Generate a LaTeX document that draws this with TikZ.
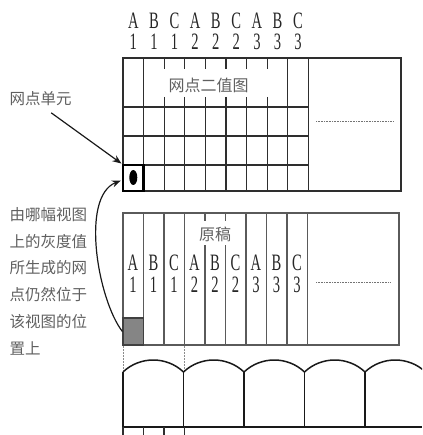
\documentclass[tikz,border=0pt]{standalone}
\usepackage{fontspec}
\usepackage{graphicx}
\newfontfamily\cjk{Noto Sans CJK SC}
\newfontfamily\ltrfont{Liberation Serif}
\usetikzlibrary{arrows.meta,calc}
\definecolor{txtgray}{HTML}{606060}
\definecolor{gridA}{HTML}{2E2E2E}
\definecolor{gridB}{HTML}{5A5A5A}
\newcommand\ltr[1]{\scalebox{0.62}[1]{#1}}
\begin{document}
\begin{tikzpicture}[x=1pt,y=-1pt,
  lettr/.style={inner sep=0pt,text=black!85,align=center},
  cjklbl/.style={inner sep=0pt,text=txtgray,font=\cjk\fontsize{15.5}{26.8}\selectfont},
  gA/.style={draw=gridA,line width=1.2pt},
  gB/.style={draw=gridB,line width=1.1pt},
  archline/.style={draw=black!90,line width=1.5pt},
  arr/.style={draw=black!90,line width=1.2pt,-{Stealth[length=9pt,width=7pt]}},
  dotln/.style={draw=black!55,line width=0.6pt,dash pattern=on 0.8pt off 0.8pt}]
\useasboundingbox (0,0) rectangle (422,435);
\begin{scope}
\clip (0,0) rectangle (422,435);
% ---------- column labels ----------
\foreach \i/\l/\n in {0/A/1,1/B/1,2/C/1,3/A/2,4/B/2,5/C/2,6/A/3,7/B/3,8/C/3} {
  \node[lettr,font=\ltrfont\fontsize{23.5}{21}\selectfont] (tl\i) at (133.3+20.6*\i, 31.5) {\ltr{\l}\\\ltr{\n}};
  \node[lettr,font=\ltrfont\fontsize{23.5}{22}\selectfont] (ol\i) at (133.0+20.5*\i, 273.5) {\ltr{\l}\\\ltr{\n}};
}
% ---------- top grid ----------
\draw[gA] (123,58) rectangle (401,191);
\foreach \y in {107,136,165} \draw[gA] (123,\y) -- (308.4,\y);
\foreach \x in {143.6,287.8,308.4} \draw[gA] (\x,58) -- (\x,191);
\foreach \i in {2,...,7} {
  \draw[gA] (123+20.6*\i,58) -- (123+20.6*\i,69);
  \draw[gA] (123+20.6*\i,97) -- (123+20.6*\i,191);
}
\node[cjklbl,font=\cjk\fontsize{16}{16}\selectfont] (bintitle) at (208.5,85.5) {网点二值图};
\draw[dotln] (316,121) -- (393,121);
\node[draw=black,line width=2.3pt,minimum width=20.6pt,minimum height=26pt,inner sep=0pt] (cell) at (133.3,178) {};
\fill[black] (133.3,177.5) ellipse (4pt and 7.5pt);
% ---------- original grid ----------
\draw[gB] (123,213) rectangle (399,345);
\foreach \i in {1,2,3,6,7,8,9} \draw[gB] (123+20.5*\i,213) -- (123+20.5*\i,345);
\foreach \i in {4,5} {
  \draw[gB] (123+20.5*\i,213) -- (123+20.5*\i,221);
  \draw[gB] (123+20.5*\i,245) -- (123+20.5*\i,345);
}
\node[cjklbl,font=\cjk\fontsize{16}{16}\selectfont] (origtitle) at (215,234.5) {原稿};
\draw[dotln] (316,282) -- (391,282);
\node[draw=black!75,line width=1.2pt,fill=black!48,minimum width=20.5pt,minimum height=27pt,inner sep=0pt] (gcell) at (133.25,331.5) {};
% ---------- dashed guides ----------
\draw[draw=black!45,line width=0.8pt,dash pattern=on 2pt off 1pt] (123,346) -- (123,372);
\draw[draw=black!45,line width=0.8pt,dash pattern=on 2pt off 1pt] (184.5,346) -- (184.5,372);
% ---------- arches ----------
\foreach \x in {123,183.5,244,304.5,365,425.5} {
  \draw[archline] (\x,372) .. controls (\x+16.8,356) and (\x+43.7,356) .. (\x+60.5,372);
}
\foreach \x in {123,183.5,244,304.5,365} \draw[archline] (\x,372) -- (\x,427);
\draw[archline] (122.3,427) -- (422,427);
\foreach \x in {123,143.5,164,184.5} \draw[gA] (\x,427) -- (\x,435);
% ---------- left labels ----------
\node[cjklbl,anchor=west] (lbl1) at (9.5,98.5) {网点单元};
\node[cjklbl,anchor=north west,align=left] (lbl2) at (9.5,207) {由哪幅视图\\上的灰度值\\所生成的网\\点仍然位于\\该视图的位\\置上};
% ---------- arrows ----------
\draw[arr,shorten >=0.5pt] ($(lbl1.south)+(10.5,7)$) -- (cell.north west);
\draw[arr] (gcell.west) .. controls (98,300) and (80,197) .. ($(cell.west)+(-1,2.5)$);
\end{scope}
\end{tikzpicture}
\end{document}
